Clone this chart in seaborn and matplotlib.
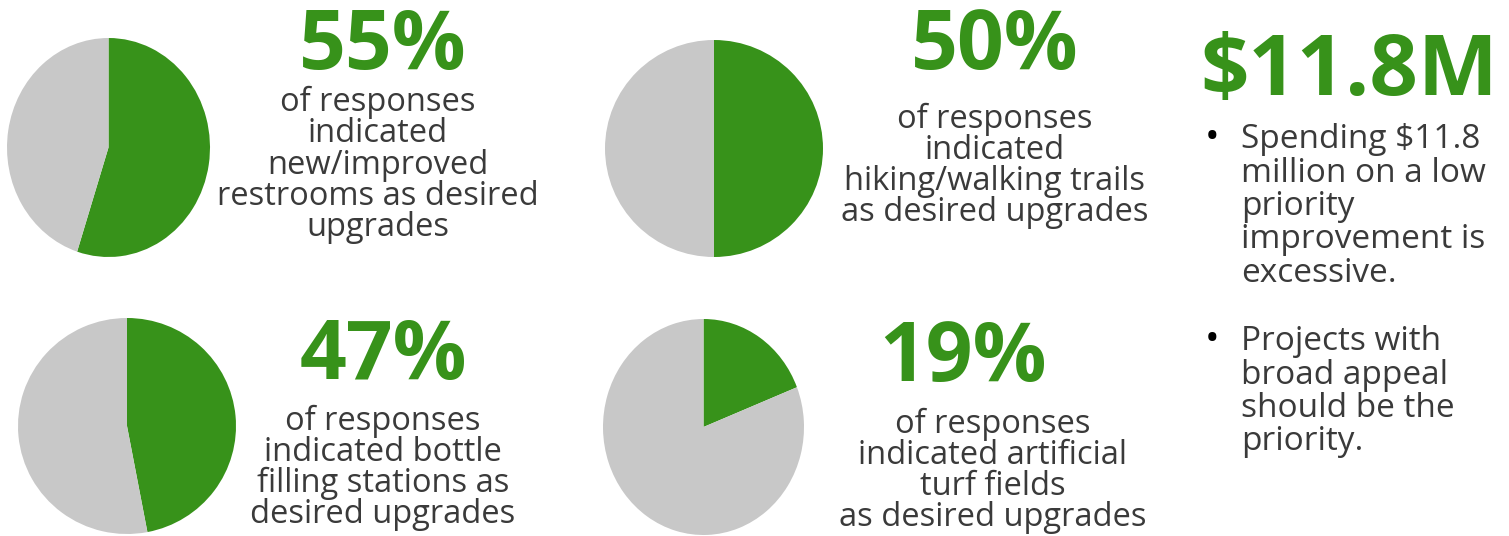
import seaborn as sns
import matplotlib.pyplot as plt

W, H = 1509, 536

# data
shares = [55, 50, 47, 19]
labels = ["55%", "50%", "47%", "19%"]
captions = [
    "of responses\nindicated\nnew/improved\nrestrooms as desired\nupgrades",
    "of responses\nindicated\nhiking/walking trails\nas desired upgrades",
    "of responses\nindicated bottle\nfilling stations as\ndesired upgrades",
    "of responses\nindicated artificial\nturf fields\nas desired upgrades",
]
cost_label = "$11.8M"
bullets = [
    "Spending $11.8\nmillion on a low\npriority\nimprovement is\nexcessive.",
    "Projects with\nbroad appeal\nshould be the\npriority.",
]

# layout in pixels: pie box (left, top, width, height), text centre, caption centre
pie_boxes = [(7, 38, 203, 219), (605, 40, 218, 217), (18, 318, 218, 216), (603, 319, 201, 216)]
pct_pos = [(383, 48), (995, 48), (383, 358), (963, 359)]
cap_pos = [(378, 165), (995, 166), (383, 468), (993, 471)]

sns.set_theme(style="white")
plt.rcParams["font.family"] = ["Open Sans", "DejaVu Sans"]

green = "#37921a"
grey = "#c8c8c8"
txt = "#3a3a3a"

fig = plt.figure(figsize=(W / 100, H / 100), dpi=100)
fig.patch.set_facecolor("white")


def fx(x):
    return x / W


def fy(y):
    return 1 - y / H


for share, (l, t, w, h) in zip(shares, pie_boxes):
    ax = fig.add_axes([fx(l), fy(t + h), w / W, h / H])
    ax.pie([share, 100 - share], colors=[green, grey], startangle=90,
           counterclock=False, radius=1, wedgeprops=dict(linewidth=0))
    ax.set_aspect("auto")
    ax.set_xlim(-1, 1)
    ax.set_ylim(-1, 1)
    ax.axis("off")

for lab, (x, y) in zip(labels, pct_pos):
    fig.text(fx(x), fy(y), lab, ha="center", va="center", fontsize=59,
             fontweight="bold", color=green)

for cap, (x, y) in zip(captions, cap_pos):
    fig.text(fx(x), fy(y), cap, ha="center", va="center", fontsize=23.5,
             color=txt, linespacing=0.925)

fig.text(fx(1349), fy(73), cost_label, ha="center", va="center", fontsize=61,
         fontweight="bold", color=green)

for b, y in zip(bullets, [123, 325]):
    fig.text(fx(1212), fy(y + 16), "\u2022", ha="center", va="center",
             fontsize=28, color="black")
    fig.text(fx(1241), fy(y), b, ha="left", va="top", fontsize=24,
             color=txt, linespacing=1.02)

fig.savefig("out.png", dpi=100)
